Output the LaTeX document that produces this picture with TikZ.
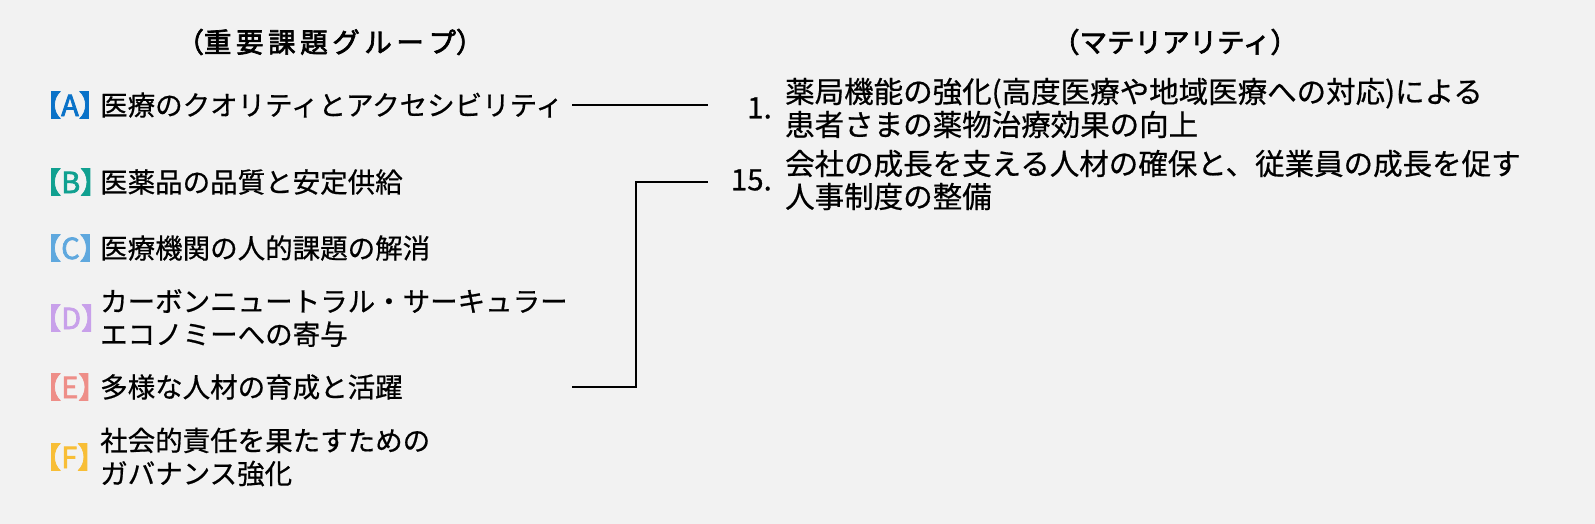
\documentclass[tikz,border=0pt]{standalone}
\usepackage{fontspec}
\newfontfamily\jp[FakeBold=0.6]{Noto Sans CJK JP}
\newfontfamily\jpb[FakeBold=2.5]{Noto Sans CJK JP}
\definecolor{bg}{HTML}{F2F2F2}
\definecolor{cA}{HTML}{0A72C8}
\definecolor{cB}{HTML}{10A090}
\definecolor{cC}{HTML}{5FA8DE}
\definecolor{cD}{HTML}{C8A0EA}
\definecolor{cE}{HTML}{EE8E88}
\definecolor{cF}{HTML}{F8BE36}
\begin{document}
\begin{tikzpicture}[x=1pt,y=-1pt,
  txt/.style={font=\jp\fontsize{27.5}{33}\selectfont,anchor=west,inner sep=0pt,align=left,text=black},
  rtxt/.style={txt,font=\jp\fontsize{29.5}{33}\selectfont},
  tag/.style={font=\jpb\fontsize{29}{30}\selectfont,anchor=west,inner sep=0pt},
  ln/.style={line width=1.4pt,black}]
\fill[bg] (0,0) rectangle (1595,524);
\useasboundingbox (0,0) rectangle (1595,524);
\node[txt,anchor=center,font=\jpb\fontsize{27.5}{33}\selectfont] (tl) at (330,42) {（重\,要\,課\,題\,グ\,ル\,ー\,プ）};
\node[txt,anchor=center,font=\jpb\fontsize{27.5}{33}\selectfont] (tr) at (1175,42) {（マテリアリティ）};
\node[tag,text=cA] (ta) at (32,105) {【A】};
\node[tag,text=cB] (tb) at (32,182) {【B】};
\node[tag,text=cC] (tc) at (32,248) {【C】};
\node[tag,text=cD] (td) at (32,318) {【D】};
\node[tag,text=cE] (te) at (32,387) {【E】};
\node[tag,text=cF] (tf) at (32,457) {【F】};
\node[txt] (a) at (100,105) {医療のクオリティとアクセシビリティ};
\node[txt] (b) at (100,182) {医薬品の品質と安定供給};
\node[txt] (c) at (100,248) {医療機関の人的課題の解消};
\node[txt] (d) at (100,318) {カーボンニュートラル・サーキュラー\\エコノミーへの寄与};
\node[txt] (e) at (100,387) {多様な人材の育成と活躍};
\node[txt] (f) at (100,457) {社会的責任を果たすための\\ガバナンス強化};
\node[rtxt,anchor=east] (n1) at (772,108) {1.};
\node[rtxt] (m1) at (785,108) {薬局機能の強化(高度医療や地域医療への対応)による\\患者さまの薬物治療効果の向上};
\node[rtxt,anchor=east] (n15) at (772,180) {15.};
\node[rtxt] (m15) at (785,180) {会社の成長を支える人材の確保と、従業員の成長を促す\\人事制度の整備};
\coordinate (a1) at (572,105);
\coordinate (a2) at (708,105);
\coordinate (e1) at (572,387);
\coordinate (e2) at (708,182);
\draw[ln] (a1) -- (a2);
\draw[ln] (e1) -- (636,387) -- (636,182) -- (e2);
\end{tikzpicture}
\end{document}
